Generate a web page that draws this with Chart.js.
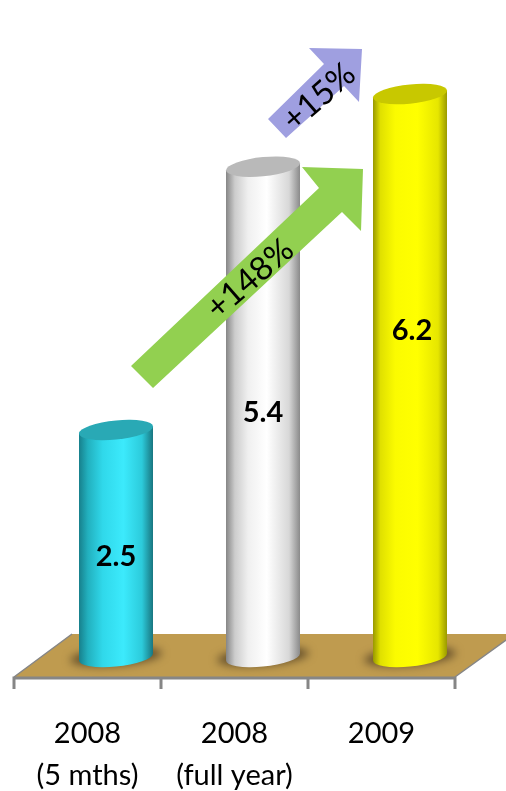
<!DOCTYPE html>
<html>
<head>
<meta charset="utf-8">
<title>Cylinders</title>
<script src="https://cdn.jsdelivr.net/npm/chart.js@4/dist/chart.umd.min.js"></script>
<style>
  html, body { margin: 0; padding: 0; background: #fff; }
  #wrap { width: 506px; height: 791px; }
</style>
</head>
<body>
<div id="wrap"><canvas id="graphic" width="506" height="791"></canvas></div>
<script>
// Chart data
const categories = [['2008', '(5 mths)'], ['2008', '(full year)'], ['2009']];
const values = [2.5, 5.4, 6.2];

// Height on the value axis where each number is printed inside its cylinder
const valueLabelAt = [1.07, 2.65, 3.56];

const bodyStops = [
  [[0, '#17808c'], [0.12, '#22b0be'], [0.32, '#30d8ea'], [0.6, '#3ceafc'], [0.85, '#2ccbdb'], [1, '#197680']],
  [[0, '#868686'], [0.12, '#cccccc'], [0.3, '#f0f0f0'], [0.55, '#ffffff'], [0.85, '#d8d8d8'], [1, '#8a8a8a']],
  [[0, '#989800'], [0.1, '#e0e000'], [0.3, '#fbfb00'], [0.6, '#ffff00'], [0.88, '#e6e600'], [1, '#9a9a00']]
];
const capColors = ['#29a9b5', '#b9b9b9', '#c8c800'];

const FLOOR = '#bf9b4f';
const EDGE = '#868686';
const FONT = 'Lato, "Open Sans", sans-serif';

// The floor is drawn in perspective, so the cylinders sit to the right of the axis ticks
const SHIFT = 28.5;
const TILT = -0.095;
const RY = 9.6;

function arrow(ctx, pts, color) {
  ctx.fillStyle = color;
  ctx.beginPath();
  pts.forEach((p, i) => i ? ctx.lineTo(p[0], p[1]) : ctx.moveTo(p[0], p[1]));
  ctx.closePath();
  ctx.fill();
}

function ellipsePath(ctx, cx, cy, rx, start, end) {
  ctx.save();
  ctx.transform(1, TILT, 0, 1, cx, cy);
  ctx.ellipse(0, 0, rx, RY, 0, start, end);
  ctx.restore();
}

const scenery = {
  id: 'scenery',
  beforeDatasetsDraw(chart) {
    const { ctx, scales: { x, y } } = chart;
    const band = x.width / categories.length;
    const left = x.left - SHIFT;
    const front = y.getPixelForValue(0) + 23.5;

    // floor
    ctx.save();
    ctx.fillStyle = FLOOR;
    ctx.beginPath();
    ctx.moveTo(left, front);
    ctx.lineTo(72, front - 43);
    ctx.lineTo(506, front - 43);
    ctx.lineTo(506, front - 37);
    ctx.lineTo(left + band * 3, front);
    ctx.closePath();
    ctx.fill();

    // floor edges and tick marks
    ctx.strokeStyle = EDGE;
    ctx.lineWidth = 1.5;
    ctx.beginPath();
    ctx.moveTo(left, front);
    ctx.lineTo(72, front - 43);
    ctx.moveTo(left + band * 3, front);
    ctx.lineTo(506, front - 37);
    ctx.stroke();
    ctx.lineWidth = 3;
    ctx.beginPath();
    ctx.moveTo(left - 1.5, front + 1);
    ctx.lineTo(left + band * 3 + 1.5, front + 1);
    for (let i = 0; i <= 3; i++) {
      ctx.moveTo(left + band * i, front);
      ctx.lineTo(left + band * i, front + 12);
    }
    ctx.stroke();

    // soft shadows under the cylinders
    ctx.filter = 'blur(4px)';
    ctx.fillStyle = '#66502b';
    chart.getDatasetMeta(0).data.forEach(bar => {
      ctx.beginPath();
      ctx.ellipse(bar.x, y.getPixelForValue(0) + 3, 46, 9, -0.08, 0, Math.PI * 2);
      ctx.fill();
    });
    ctx.restore();
  },
  beforeDatasetDraw(chart) {
    // slanted top edge for each cylinder body
    const { ctx } = chart;
    ctx.save();
    ctx.beginPath();
    chart.getDatasetMeta(0).data.forEach(bar => {
      const half = bar.width / 2;
      ctx.moveTo(bar.x - half, bar.y + half * -TILT * 2);
      ctx.lineTo(bar.x + half, bar.y);
      ctx.lineTo(bar.x + half, bar.base);
      ctx.lineTo(bar.x - half, bar.base);
      ctx.closePath();
    });
    ctx.clip();
  },
  afterDatasetDraw(chart) {
    chart.ctx.restore();
  },
  afterDatasetsDraw(chart) {
    const { ctx, scales: { y } } = chart;
    const drop = 37 * -TILT;

    chart.getDatasetMeta(0).data.forEach((bar, i) => {
      const half = bar.width / 2;

      // rounded foot of the cylinder
      ctx.fillStyle = bar.options.backgroundColor;
      ctx.beginPath();
      ctx.moveTo(bar.x - half, bar.base - 1);
      ctx.lineTo(bar.x + half, bar.base - 1);
      ctx.lineTo(bar.x + half, bar.base);
      ellipsePath(ctx, bar.x, bar.base + drop, half, 0, Math.PI);
      ctx.closePath();
      ctx.fill();

      // top face
      ctx.fillStyle = capColors[i];
      ctx.beginPath();
      ellipsePath(ctx, bar.x, bar.y + drop, half, 0, Math.PI * 2);
      ctx.fill();

      // value printed on the body
      ctx.fillStyle = '#000';
      ctx.font = '700 29px ' + FONT;
      ctx.textAlign = 'center';
      ctx.textBaseline = 'middle';
      ctx.fillText(values[i].toFixed(1), bar.x + (i === 2 ? 2 : 0), y.getPixelForValue(valueLabelAt[i]));
    });

    // growth arrows
    arrow(ctx, [[363, 169], [302, 167], [319, 188], [131, 366], [153, 388], [342, 212], [361, 231]], '#92d050');
    arrow(ctx, [[362, 49], [309, 48], [324, 64], [268, 119], [286, 138], [344, 86], [359, 102]], '#9f9fe0');

    ctx.fillStyle = '#000';
    ctx.font = '400 33px ' + FONT;
    ctx.textAlign = 'center';
    ctx.textBaseline = 'middle';
    [['+148%', 250, 279], ['+15%', 319, 97]].forEach(t => {
      ctx.save();
      ctx.translate(t[1], t[2]);
      ctx.rotate(-41 * Math.PI / 180);
      ctx.fillText(t[0], 0, 0);
      ctx.restore();
    });
  }
};

// Horizontal shading across a cylinder
function bodyGradient(c) {
  const { chart, dataIndex } = c;
  if (!chart.chartArea) return bodyStops[dataIndex][3][1];
  const cx = chart.scales.x.getPixelForValue(dataIndex);
  const g = chart.ctx.createLinearGradient(cx - 37, 0, cx + 37, 0);
  bodyStops[dataIndex].forEach(s => g.addColorStop(s[0], s[1]));
  return g;
}

new Chart(document.getElementById('graphic').getContext('2d'), {
  type: 'bar',
  data: {
    labels: categories,
    datasets: [{
      data: values,
      backgroundColor: bodyGradient,
      borderWidth: 0,
      barThickness: 74
    }]
  },
  options: {
    responsive: false,
    animation: false,
    layout: { padding: { left: 42.5, right: 22.5, top: 17.9, bottom: 0 } },
    plugins: { legend: { display: false }, tooltip: { enabled: false } },
    scales: {
      x: {
        border: { display: false },
        grid: { display: false },
        afterFit(scale) {
          scale.height = 137.5;
          scale.paddingLeft = 0;
          scale.paddingRight = 0;
        },
        ticks: {
          maxRotation: 0,
          autoSkip: false,
          labelOffset: -SHIFT,
          padding: 52,
          color: '#000',
          font: { family: FONT, size: 29, lineHeight: 1.42 }
        }
      },
      y: { display: false, min: 0, max: 7 }
    }
  },
  plugins: [scenery]
});
</script>
</body>
</html>
